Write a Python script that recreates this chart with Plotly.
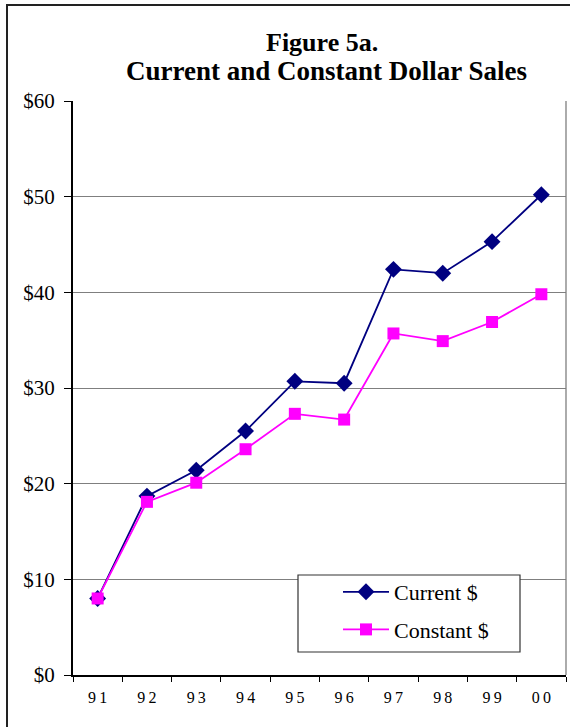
import plotly.graph_objects as go

years = ["91", "92", "93", "94", "95", "96", "97", "98", "99", "00"]
current = [8.0, 18.7, 21.4, 25.5, 30.7, 30.5, 42.4, 42.0, 45.3, 50.2]
constant = [8.0, 18.1, 20.1, 23.6, 27.3, 26.7, 35.7, 34.9, 36.9, 39.8]
y_ticks = [0, 10, 20, 30, 40, 50, 60]
y_labels = ["$0", "$10", "$20", "$30", "$40", "$50", "$60"]
x_labels = ["\u2009".join(y) for y in years]

SERIF = "Liberation Serif, Times New Roman, serif"
W, H = 570, 727
L, R, T, B = 73, 4, 101, 52
pw, ph = W - L - R, H - T - B

def px(x):
    return (x - L) / pw

def py(y):
    return (H - B - y) / ph

fig = go.Figure()
fig.add_trace(go.Scatter(
    x=years, y=current, name="Current $", mode="lines+markers",
    line=dict(color="#000080", width=1.8),
    marker=dict(symbol="diamond", size=13, color="#000080"),
    legendgroup="a",
))
fig.add_trace(go.Scatter(
    x=years, y=constant, name="Constant $", mode="lines+markers",
    line=dict(color="#FF00FF", width=1.8),
    marker=dict(symbol="square", size=12, color="#FF00FF"),
    legendgroup="b",
))

fig.update_layout(
    width=W, height=H,
    margin=dict(l=L, r=R, t=T, b=B),
    paper_bgcolor="white", plot_bgcolor="white",
    font=dict(family=SERIF, color="black"),
    showlegend=True,
    legend=dict(
        x=px(338), y=py(571), xanchor="left", yanchor="top",
        borderwidth=0, bgcolor="rgba(0,0,0,0)",
        font=dict(family=SERIF, size=22, color="black"),
        tracegroupgap=6, itemwidth=46,
    ),
    xaxis=dict(
        type="category", categoryorder="array", categoryarray=years,
        tickmode="array", tickvals=years, ticktext=x_labels,
        tickson="boundaries", ticks="outside", ticklen=5, tickcolor="black",
        showgrid=False, showline=True, linecolor="black", linewidth=1.5,
        tickfont=dict(family=SERIF, size=16), ticklabelstandoff=7,
        range=[-0.5, 9.5], zeroline=False,
    ),
    yaxis=dict(
        range=[0, 60], tickmode="array", tickvals=y_ticks, ticktext=y_labels,
        ticks="outside", ticklen=7, tickcolor="black",
        showgrid=True, gridcolor="#7f7f7f", gridwidth=1.3,
        showline=True, linecolor="black", linewidth=2,
        tickfont=dict(family=SERIF, size=21), ticklabelstandoff=5,
        zeroline=False,
    ),
    shapes=[
        dict(type="line", xref="paper", yref="paper", x0=1, x1=1, y0=0, y1=1,
             line=dict(color="#7f7f7f", width=1.3)),
        dict(type="rect", xref="paper", yref="paper",
             x0=px(7), x1=px(580), y0=py(740), y1=py(5),
             line=dict(color="#222222", width=2), layer="below"),
        dict(type="rect", xref="paper", yref="paper",
             x0=px(298), x1=px(520), y0=py(652), y1=py(575),
             line=dict(color="#333333", width=1.2), fillcolor="white",
             layer="above"),
    ],
    annotations=[
        dict(text="<b>Figure 5a.</b>", xref="paper", yref="paper",
             x=px(322), y=py(43), xanchor="center", yanchor="middle",
             showarrow=False, font=dict(family=SERIF, size=26)),
        dict(text="<b>Current and Constant Dollar Sales</b>", xref="paper", yref="paper",
             x=px(326), y=py(71), xanchor="center", yanchor="middle",
             showarrow=False, font=dict(family=SERIF, size=27)),
    ],
)

fig.write_html("out.html", config={"displayModeBar": False},
               post_script="document.body.style.margin='0';")
